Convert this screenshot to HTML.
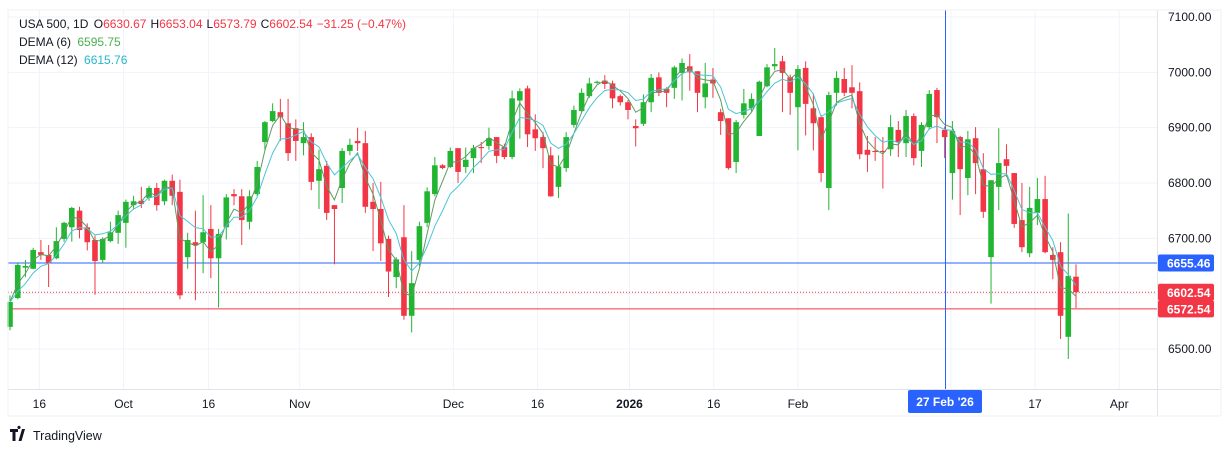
<!DOCTYPE html>
<html><head><meta charset="utf-8"><style>
body{margin:0;background:#fff;width:1231px;height:452px;overflow:hidden;font-family:"Liberation Sans",sans-serif;}
svg text{font-family:"Liberation Sans",sans-serif;}
</style></head><body>
<svg id="chart" width="1231" height="452" xmlns="http://www.w3.org/2000/svg">
<rect x="0" y="0" width="1231" height="452" fill="#fff"/>
<g id="grid"></g>
<g id="refs"></g>
<g id="candles"></g>
<g id="lines"></g>
<g id="axes"></g>
<g id="legend">
<text x="19" y="28" font-size="12" fill="#131722">USA 500, 1D <tspan dx="2">O</tspan><tspan fill="#f23645">6630.67</tspan><tspan dx="4">H</tspan><tspan fill="#f23645">6653.04</tspan><tspan dx="4">L</tspan><tspan fill="#f23645">6573.79</tspan><tspan dx="4">C</tspan><tspan fill="#f23645">6602.54</tspan><tspan dx="4" fill="#f23645">−31.25 (−0.47%)</tspan></text>
<text x="19" y="46" font-size="12" fill="#131722">DEMA (6) <tspan dx="3" fill="#4caf50">6595.75</tspan></text>
<text x="19" y="64" font-size="12" fill="#131722">DEMA (12) <tspan dx="3" fill="#26b6cc">6615.76</tspan></text>
</g>
<g>
<text x="10" y="440" font-size="14" font-weight="bold" fill="#131722">𝟏𝟕</text>
<rect x="9" y="428" width="22" height="14" fill="#fff"/>
<path d="M10 429h8v3h-2.5v9h-3v-9H10z M22 429h3l-3.5 12h-3z M19 429a1.6 1.6 0 1 1 0.01 0z" fill="#131722"/>
<text x="33" y="440" font-size="12.5" fill="#131722">TradingView</text>
</g>
</svg>
<script>
const opens=[6540,6592,6647,6645,6675,6670,6664,6699,6720,6750,6720,6697,6661,6695,6710,6728,6760,6768,6773,6791,6767,6804,6784,6666,
6693,6693,6717,6664,6720,6780,6776,6730,6780,6874,6912,6928,6908,6899,6872,6883,6804,6831,6760,6791,6858,6876,6872,6766,6753,6699,6630,6702,6560,6661,
6728,6780,6832,6829,6863,6829,6845,6865,6867,6883,6865,6847,6949,6971,6897,6883,6850,6793,6827,6905,6930,6957,6981,6985,6980,6957,6946,
6903,6907,6946,6991,6970,6972,6999,7011,7002,6955,6987,6928,6917,6838,6923,6935,6885,6975,7011,7020,6991,6937,7008,6935,6919,6791,6963,6988,6973,
6966,6860,6858,6858,6861,6896,6872,6921,6858,6901,6968,6896,6818,6883,6809,6881,6825,6666,6793,6843,6818,6733,6673,6746,6771,6670,6675,6522,6630.67];
const highs=[6597,6655,6661,6683,6697,6688,6720,6730,6757,6757,6727,6705,6702,6730,6750,6770,6777,6793,6795,6800,6806,6815,6806,6710,
6750,6778,6760,6717,6780,6789,6789,6787,6840,6912,6944,6952,6952,6915,6910,6890,6860,6840,6760,6863,6880,6900,6894,6800,6802,6705,6666,6760,6677,6730,
6792,6847,6834,6864,6863,6864,6869,6874,6900,6883,6871,6967,6971,6976,6924,6892,6865,6850,6892,6940,6971,6990,6985,6995,6985,6960,6950,
6915,6960,6997,7000,6973,7012,7025,7033,7002,7017,7008,6934,6917,6914,6970,6962,6985,7015,7044,7030,6996,7013,7020,6962,6923,6965,7002,7008,7013,
6982,6885,6883,6883,6923,6912,6932,6926,6910,6968,6972,6902,6912,6885,6894,6901,6854,6805,6899,6870,6818,6800,6793,6809,6813,6684,6693,6745,6653.04];
const lows=[6534,6590,6630,6644,6661,6612,6662,6694,6694,6700,6678,6598,6655,6693,6690,6683,6753,6755,6768,6750,6760,6760,6590,6645,
6588,6637,6628,6575,6698,6760,6688,6716,6776,6860,6910,6876,6840,6840,6850,6787,6753,6733,6653,6764,6850,6858,6746,6677,6659,6594,6610,6553,6530,6650,
6720,6776,6825,6827,6800,6818,6818,6836,6860,6836,6843,6843,6880,6865,6858,6827,6775,6773,6820,6900,6927,6954,6979,6970,6935,6940,6915,
6866,6903,6928,6957,6937,6952,6949,6967,6928,6935,6954,6887,6824,6818,6917,6929,6885,6973,7004,6928,6923,6859,6886,6859,6802,6751,6940,6957,6935,
6843,6820,6840,6790,6849,6847,6847,6832,6829,6896,6872,6845,6770,6742,6778,6780,6737,6582,6751,6811,6719,6675,6666,6724,6673,6626,6518,6482,6573.79];
const closes=[6585,6652,6650,6679,6670,6655,6695,6728,6755,6715,6693,6659,6699,6711,6742,6766,6767,6762,6791,6760,6804,6777,6597,6697,
6688,6711,6664,6708,6774,6776,6733,6776,6829,6910,6930,6919,6854,6876,6883,6802,6825,6746,6753,6858,6869,6872,6757,6753,6691,6640,6662,6560,6619,6722,
6785,6832,6827,6858,6820,6842,6863,6863,6881,6849,6847,6953,6966,6888,6881,6863,6776,6830,6883,6932,6963,6980,6983,6979,6953,6946,6932,
6899,6946,6990,6963,6963,7009,7017,7000,6963,6980,6980,6912,6827,6910,6944,6952,6983,7009,7015,6999,6963,7006,6943,6908,6818,6959,6990,6963,6963,
6852,6851,6856,6856,6901,6874,6921,6845,6905,6961,6919,6883,6894,6825,6879,6836,6748,6805,6836,6831,6726,6684,6755,6771,6675,6661,6560,6632,6602.54];
const priceTicks=[6500,6600,6700,6800,6900,7000,7100];
const timeLabels=["16","Oct","16","Nov","Dec","16","2026","16","Feb","17","Apr"];
const timeLabelIdx=[3.8,14.7,25.7,37.5,57.4,68.3,80.2,91.1,102,132.7,143.6];
const hLines=[6655.46,6602.54,6572.54];

const NS="http://www.w3.org/2000/svg";
const X0=10, X1=1076, PL=1157, PB=389;
const step=(X1-X0)/(closes.length-1);
function xs(i){return X0+i*step;}
function ys(p){return 349-(p-6500)*0.5533;}
function mk(tag,attrs,parent){const e=document.createElementNS(NS,tag);for(const k in attrs)e.setAttribute(k,attrs[k]);parent.appendChild(e);return e;}
const grid=document.getElementById('grid'),refs=document.getElementById('refs'),cg=document.getElementById('candles'),lg=document.getElementById('lines'),ax=document.getElementById('axes');

priceTicks.forEach(p=>{
 const l=mk('line',{x1:8,x2:PL,y1:ys(p),y2:ys(p),stroke:'#f0f3fa','stroke-width':1},grid);
 
 
 const t=mk('text',{x:1168,y:ys(p)+4,'font-size':12,fill:'#131722'},ax);
 t.textContent=p.toFixed(2);
 
 
});
const vgrid=timeLabelIdx.concat([121.8]);
vgrid.forEach(i=>{
 const l=mk('line',{x1:xs(i),x2:xs(i),y1:10,y2:PB,stroke:'#f0f3fa','stroke-width':1},grid);
 
 
});
timeLabels.forEach((s,k)=>{
 const t=mk('text',{x:xs(timeLabelIdx[k]),y:408,'font-size':12,fill:'#131722','text-anchor':'middle','font-weight':s==='2026'?'bold':'normal'},ax);
 t.textContent=s;
 
 
});
// axis borders
let b=mk('line',{x1:PL+0.5,x2:PL+0.5,y1:10,y2:416,stroke:'#e0e3eb'},ax);


b=mk('line',{x1:8,x2:1221,y1:PB+0.5,y2:PB+0.5,stroke:'#e0e3eb'},ax);


b=mk('rect',{x:8,y:10,width:1213,height:406,fill:'none',stroke:'#eef0f3'},ax);



// reference lines
let r=mk('line',{x1:8,x2:PL,y1:ys(hLines[0]),y2:ys(hLines[0]),stroke:'#2962ff','stroke-width':1},refs);


r=mk('line',{x1:8,x2:PL,y1:ys(hLines[1]),y2:ys(hLines[1]),stroke:'#f23645','stroke-width':1,'stroke-dasharray':'1,2'},refs);


r=mk('line',{x1:8,x2:PL,y1:ys(hLines[2]),y2:ys(hLines[2]),stroke:'#f23645','stroke-width':1},refs);


r=mk('line',{x1:945.5,x2:945.5,y1:10,y2:PB,stroke:'#2962ff','stroke-width':1},refs);



// candles
for(let i=0;i<closes.length;i++){
 const up=closes[i]>=opens[i], col=up?'#22b532':'#f23645', x=xs(i);
 const w=mk('line',{x1:x,x2:x,y1:ys(highs[i]),y2:ys(lows[i]),stroke:col,'stroke-width':1},cg);
 
 
 const top=ys(Math.max(opens[i],closes[i])), h=Math.max(1,Math.abs(ys(opens[i])-ys(closes[i])));
 const bd=mk('rect',{x:x-2.8,y:top,width:5.6,height:h,fill:col},cg);
 
 
}
// DEMA
function ema(a,n){const k=2/(n+1);const o=[a[0]];for(let i=1;i<a.length;i++)o.push(a[i]*k+o[i-1]*(1-k));return o;}
function dema(a,n){const e1=ema(a,n),e2=ema(e1,n);return e1.map((v,i)=>2*v-e2[i]);}
[[6,'#5e9b62','dema-6-line'],[12,'#4cc4d6','dema-12-line']].forEach(([n,c,name])=>{
 const d=dema(closes,n);
 const pts=d.map((v,i)=>xs(i).toFixed(1)+','+ys(v).toFixed(1)).join(' ');
 const pl=mk('polyline',{points:pts,fill:'none',stroke:c,'stroke-width':1},lg);
 
 
});
// price labels
function plabel(p,bg,name){
 const g=mk('g',{},ax);
 
 
 mk('rect',{x:PL+1,y:ys(p)-8.5,width:56,height:17,rx:2,fill:bg},g);
 const t=mk('text',{x:PL+10,y:ys(p)+4.5,'font-size':12,fill:'#fff','font-weight':'bold'},g);
 t.textContent=p.toFixed(2);
}
plabel(hLines[0],'#2962ff','crosshair-price-label');
plabel(hLines[2],'#f23645','level-price-label');
plabel(hLines[1],'#f23645','last-price-label');
const dg=mk('g',{},ax);


mk('rect',{x:908,y:390,width:74,height:23,rx:2,fill:'#2962ff'},dg);
const dt=mk('text',{x:945,y:406,'font-size':12,fill:'#fff','text-anchor':'middle','font-weight':'bold'},dg);
dt.textContent="27 Feb '26";
</script>
</body></html>
